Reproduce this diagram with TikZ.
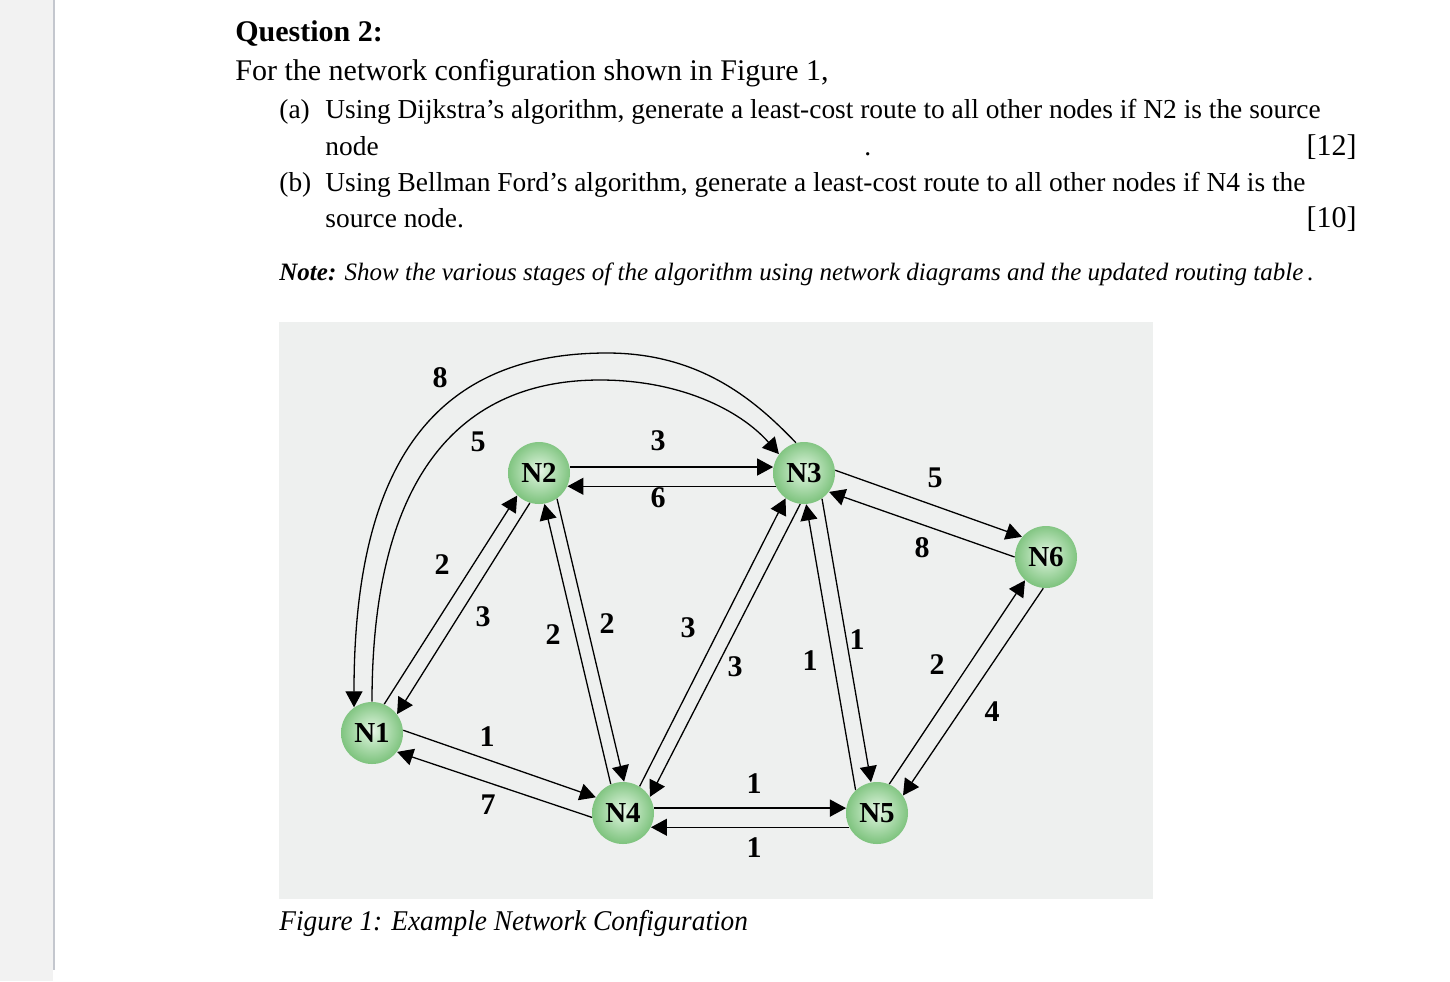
\documentclass[tikz,border=0pt]{standalone}
\usepackage{fontspec}
\setmainfont{Liberation Serif}
\usetikzlibrary{arrows.meta}
\definecolor{stripbg}{RGB}{242,242,242}
\definecolor{stripline}{RGB}{196,199,206}
\definecolor{figbg}{RGB}{238,240,239}
\definecolor{ninner}{RGB}{234,247,234}
\definecolor{nmid}{RGB}{190,228,190}
\definecolor{nouter}{RGB}{128,196,128}
\pgfdeclareradialshading{nodeball}{\pgfpoint{0bp}{2bp}}{color(0bp)=(ninner); color(9bp)=(nmid); color(25bp)=(nouter); color(50bp)=(nouter)}
\begin{document}
\begin{tikzpicture}[x=0.5pt,y=-0.5pt,
  netnode/.style={circle, minimum size=31pt, inner sep=0pt, shade, shading=nodeball, font=\fontsize{14.5}{15}\selectfont\bfseries},
  link/.style={line width=0.65pt, -{Triangle[length=8pt,width=8.5pt]}},
  wlabel/.style={font=\fontsize{15}{15}\selectfont\bfseries, inner sep=0pt},
  body/.style={font=\fontsize{15}{18}\selectfont, anchor=base west, inner sep=0pt},
  item/.style={font=\fontsize{13.7}{18}\selectfont, anchor=base west, inner sep=0pt},
  bodyr/.style={font=\fontsize{15}{18}\selectfont, anchor=base east, inner sep=0pt},
]
\useasboundingbox (0,0) rectangle (1450,981);
\fill[white] (0,0) rectangle (1450,981);
\fill[stripbg] (0,0) rectangle (53,981);
\draw[stripline, line width=1pt] (54,0) -- (54,970);
\fill[figbg] (279,322) rectangle (1153,899);

% text
\node[body, font=\fontsize{15}{18}\selectfont\bfseries] (q) at (235,41) {Question 2:};
\node[body] (intro) at (235,80) {For the network configuration shown in Figure 1,};
\node[item] (la) at (279,118) {(a)};
\node[item] (ta) at (325,118) {Using Dijkstra’s algorithm, generate a least-cost route to all other nodes if N2 is the source};
\node[item] (ta2) at (325,155) {node};
\node[item] (dot) at (864,155) {.};
\node[bodyr] (m12) at (1357,155) {[12]};
\node[item] (lb) at (279,191) {(b)};
\node[item] (tb) at (325,191) {Using Bellman Ford’s algorithm, generate a least-cost route to all other nodes if N4 is the};
\node[item] (tb2) at (325,227) {source node.};
\node[bodyr] (m10) at (1357,227) {[10]};
\node[body, font=\fontsize{12.5}{16}\selectfont\itshape] (note) at (279,280) {\textbf{Note:} Show the various stages of the algorithm using network diagrams and the updated routing table\,.};
\node[body, font=\fontsize{14.3}{16}\selectfont\itshape] (cap) at (279,930) {\scalebox{0.955}[1]{Figure 1: Example Network Configuration}};

% nodes
\node[netnode] (N1) at (372,733) {N1};
\node[netnode] (N2) at (539,473) {N2};
\node[netnode] (N3) at (804,473) {N3};
\node[netnode] (N4) at (623,813) {N4};
\node[netnode] (N5) at (877,813) {N5};
\node[netnode] (N6) at (1046,557) {N6};

% links
\draw[link] (N3.105) .. controls (755,400) and (700,353) .. (607,353) .. controls (430,353) and (354,470) .. (N1.125);
\draw[link] (N1.90) .. controls (372,490) and (450,380) .. (600,380) .. controls (680,380) and (740,410) .. (N3.143);
\draw[link] (N2.11) -- (N3.169);
\draw[link] (N3.205) -- (N2.335);
\draw[link] (N1.67) -- (N2.226);
\draw[link] (N2.253) -- (N1.37);
\draw[link] (N1.5) -- (N4.150);
\draw[link] (N4.188) -- (N1.323);
\draw[link] (N2.305) -- (N4.88);
\draw[link] (N4.113) -- (N2.280);
\draw[link] (N4.58) -- (N3.234);
\draw[link] (N3.263) -- (N4.31);
\draw[link] (N3.305) -- (N5.101);
\draw[link] (N5.133) -- (N3.274);
\draw[link] (N3.5) -- (N6.140);
\draw[link] (N6.180) -- (N3.323);
\draw[link] (N4.9) -- (N5.171);
\draw[link] (N5.207) -- (N4.333);
\draw[link] (N5.67) -- (N6.228);
\draw[link] (N6.265) -- (N5.34);

% weights
\node[wlabel] (w13a) at (440,378) {8};
\node[wlabel] (w13b) at (478,442) {5};
\node[wlabel] (w23a) at (658,441) {3};
\node[wlabel] (w23b) at (658,498) {6};
\node[wlabel] (w36a) at (935,478) {5};
\node[wlabel] (w36b) at (922,548) {8};
\node[wlabel] (w12a) at (442,565) {2};
\node[wlabel] (w12b) at (483,617) {3};
\node[wlabel] (w24a) at (553,635) {2};
\node[wlabel] (w24b) at (607,624) {2};
\node[wlabel] (w34a) at (688,628) {3};
\node[wlabel] (w34b) at (735,667) {3};
\node[wlabel] (w35a) at (810,661) {1};
\node[wlabel] (w35b) at (857,640) {1};
\node[wlabel] (w56a) at (937,665) {2};
\node[wlabel] (w56b) at (992,712) {4};
\node[wlabel] (w14a) at (487,737) {1};
\node[wlabel] (w14b) at (488,805) {7};
\node[wlabel] (w45a) at (754,784) {1};
\node[wlabel] (w45b) at (754,848) {1};
\end{tikzpicture}
\end{document}
